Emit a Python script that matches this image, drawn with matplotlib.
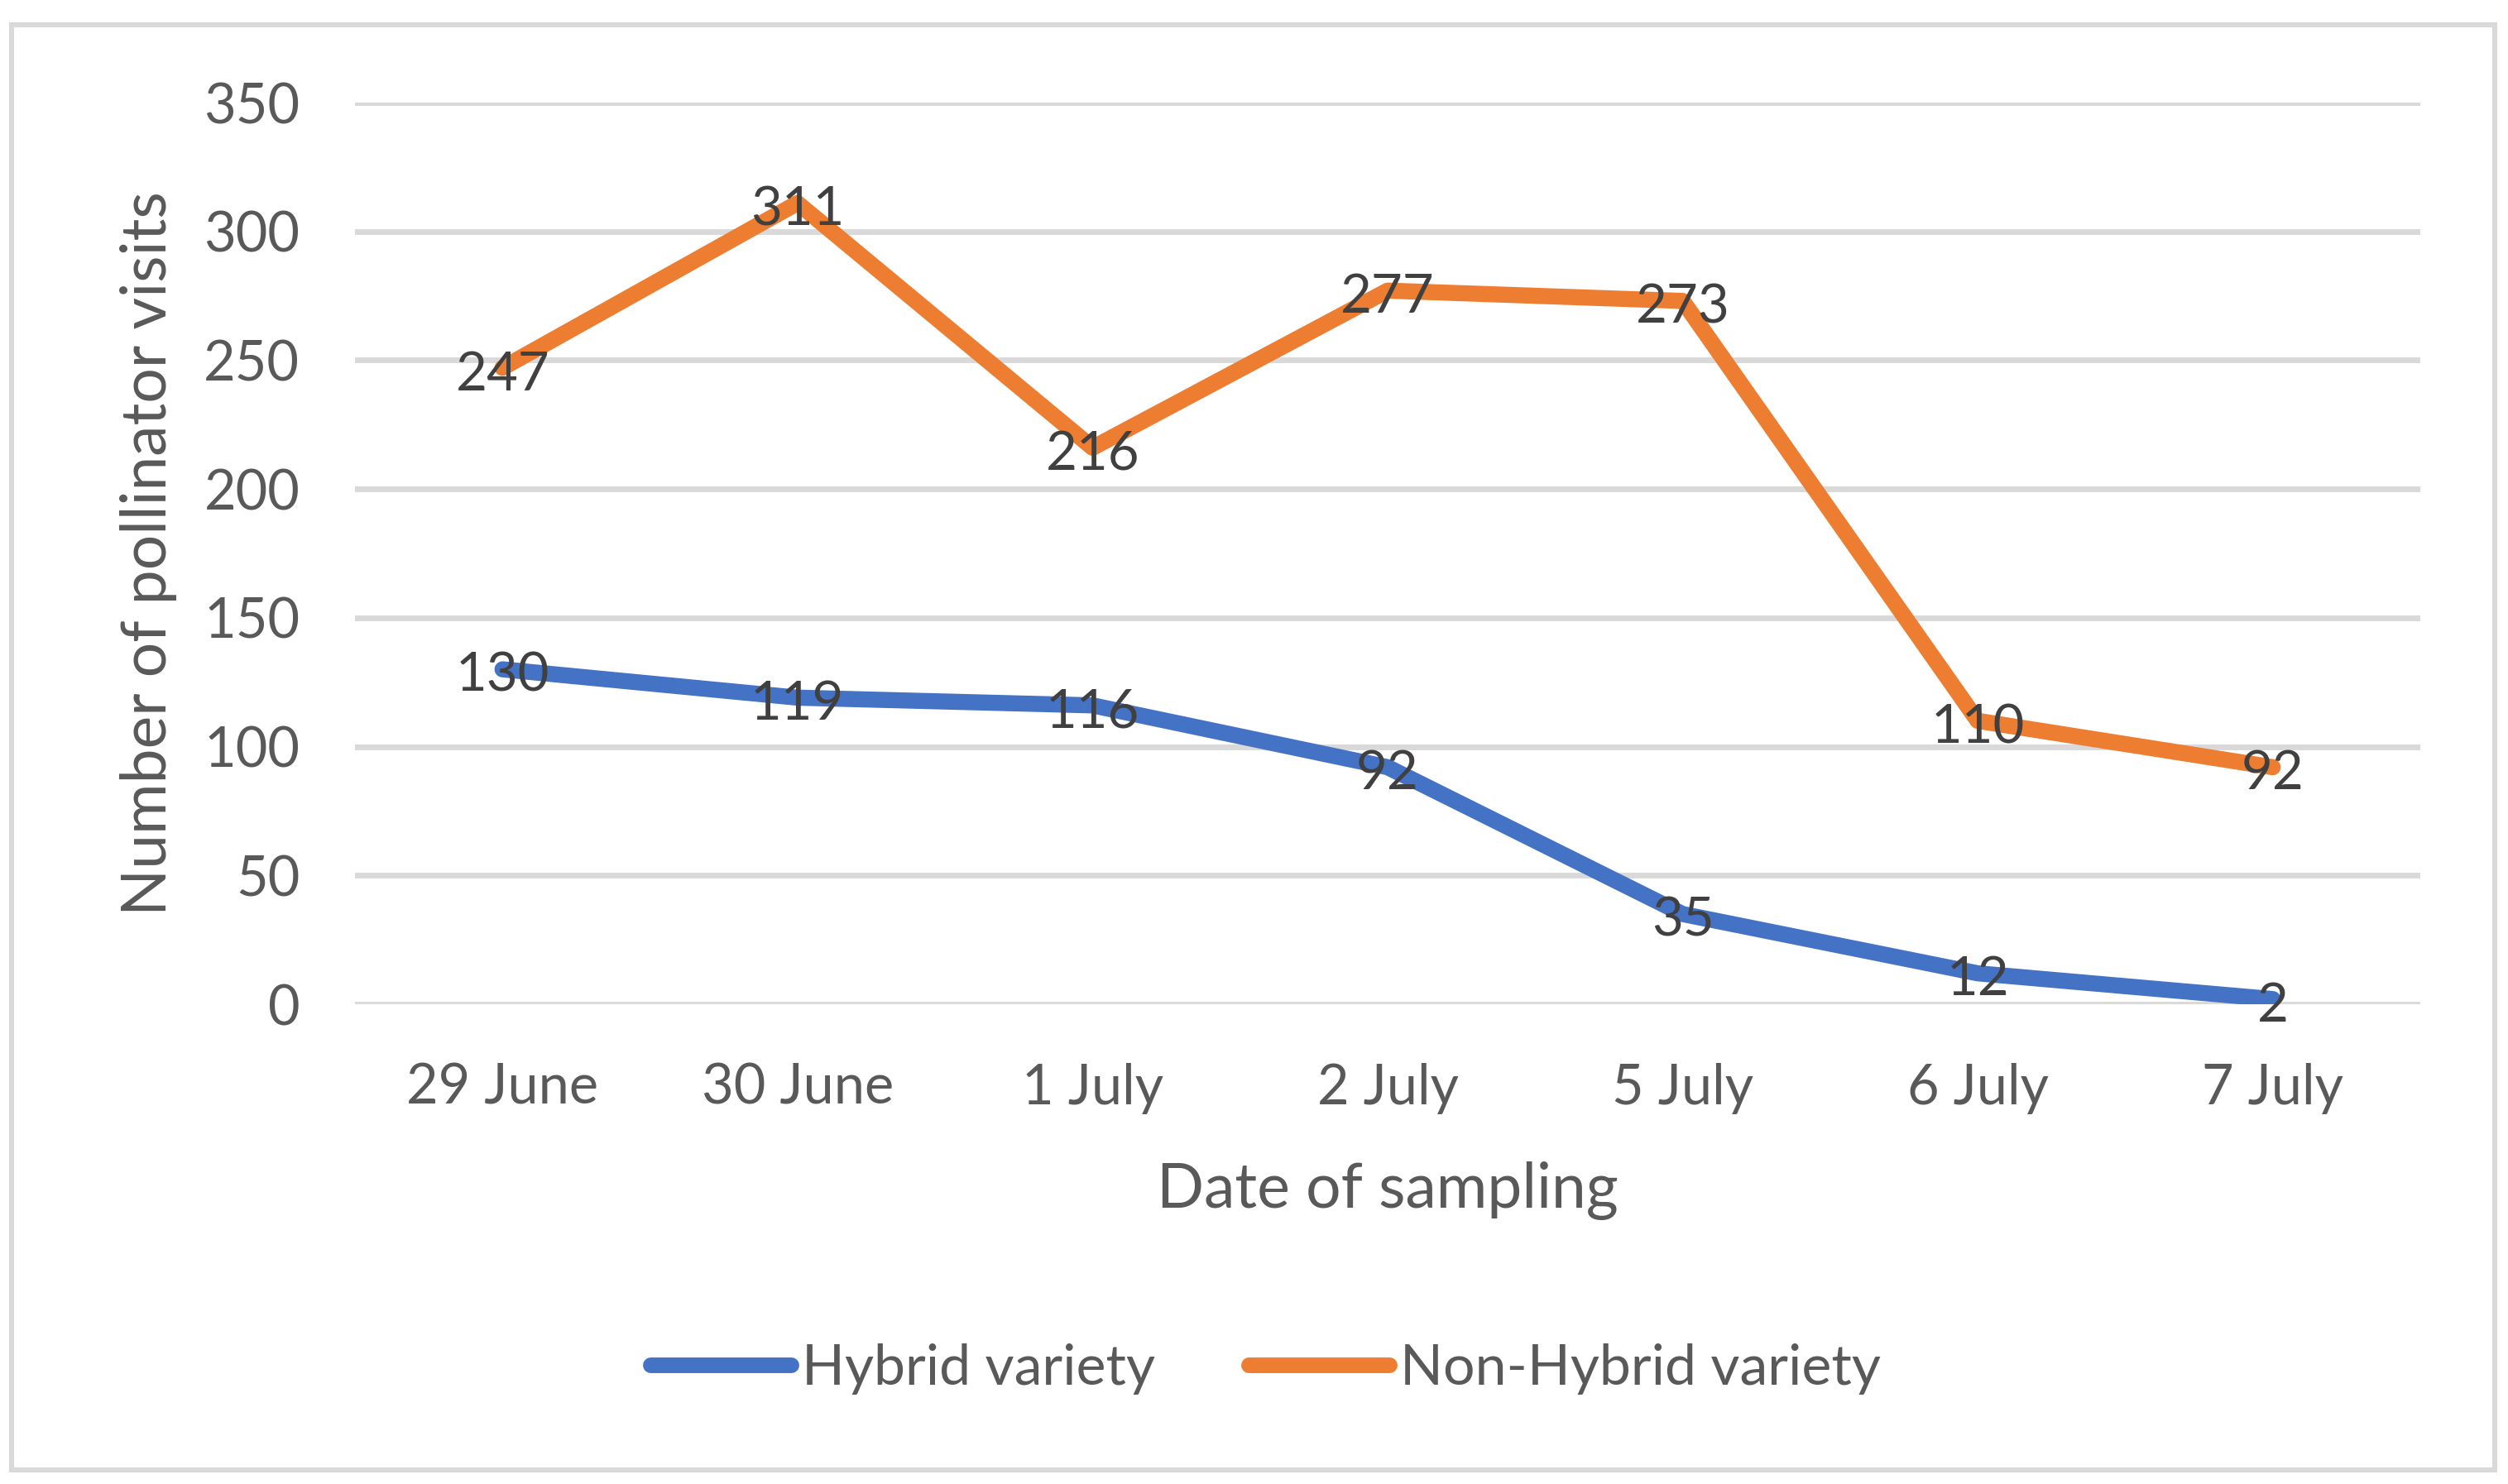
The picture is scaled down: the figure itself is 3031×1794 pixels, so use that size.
import matplotlib
matplotlib.use("Agg")
import matplotlib.pyplot as plt
from matplotlib.patches import Rectangle

dates = ["29 June", "30 June", "1 July", "2 July", "5 July", "6 July", "7 July"]
hybrid = [130, 119, 116, 92, 35, 12, 2]
non_hybrid = [247, 311, 216, 277, 273, 110, 92]
series_names = ["Hybrid variety", "Non-Hybrid variety"]
y_ticks = [0, 50, 100, 150, 200, 250, 300, 350]

BLUE = "#4472C4"
ORANGE = "#ED7D31"
GRID = "#D9D9D9"
TXT = "#595959"
LBL = "#404040"

plt.rcParams['font.family'] = ['Lato', 'DejaVu Sans']

fig = plt.figure(figsize=(3031 / 200, 1794 / 200), dpi=200)
ax = fig.add_axes([429 / 3031, 1 - 1214 / 1794, (2925 - 429) / 3031, (1214 - 124) / 1794])

x = [i + 0.5 for i in range(len(dates))]
lw = 7.0
ax.plot(x, hybrid, color=BLUE, lw=lw, solid_joinstyle='round', solid_capstyle='round',
        label=series_names[0], zorder=3)
ax.plot(x, non_hybrid, color=ORANGE, lw=lw, solid_joinstyle='round', solid_capstyle='round',
        label=series_names[1], zorder=3)

for xs, ys in ((x, hybrid), (x, non_hybrid)):
    for xi, yi in zip(xs, ys):
        ax.annotate(str(yi), (xi, yi), xytext=(0, -3), textcoords='offset points',
                    ha='center', va='center', fontsize=23.5, color=LBL, zorder=4)

ax.set_xlim(0, len(dates))
ax.set_ylim(0, 350)
ax.set_yticks(y_ticks)
ax.set_xticks(x)
ax.set_xticklabels(dates)
ax.tick_params(axis='both', length=0, labelsize=24, labelcolor=TXT)
ax.tick_params(axis='y', pad=24)
ax.tick_params(axis='x', pad=25.5)
ax.grid(axis='y', color=GRID, lw=2.5, zorder=0)
ax.set_axisbelow(True)
for s in ax.spines.values():
    s.set_visible(False)

ax.set_xlabel("Date of sampling", fontsize=27, color=TXT, va='center')
ax.xaxis.set_label_coords(0.5, -0.207)
ax.set_ylabel("Number of pollinator visits", fontsize=27, color=TXT, va='center')
ax.yaxis.set_label_coords(-0.1, 0.5)

leg = fig.legend(loc='center', bbox_to_anchor=(0.5046, 1 - 1655 / 1794), ncol=2, frameon=False,
                 fontsize=24.5, handlelength=2.5, handletextpad=0.2, columnspacing=1.65)
for t in leg.get_texts():
    t.set_color(TXT)
for h in leg.get_lines():
    h.set_linewidth(6.8)
    h.set_solid_capstyle('round')

fig.patches.append(Rectangle((14 / 3031, 1 - 1777 / 1794), (3015 - 14) / 3031, (1777 - 30) / 1794,
                             transform=fig.transFigure, fill=False, edgecolor=GRID, lw=2.2))

fig.savefig("out.png", dpi=200)
